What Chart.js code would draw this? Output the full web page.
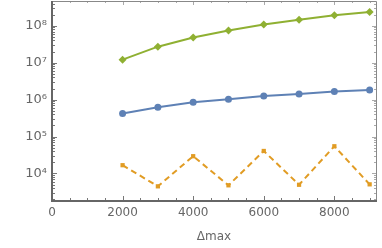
<!DOCTYPE html>
<html>
<head>
	<title>Delta max chart</title>
	<style>
		body { margin: 0; background: #fff; }
		.chart { width: 382px; height: 248px; }
	</style>
</head>
<body>
	<div class="chart">
	<canvas id="chart1"></canvas>
	</div>

	<script src="https://cdn.jsdelivr.net/npm/chart.js@4.4.0/dist/chart.umd.min.js"></script>
	<script>
		// values
		var deltaMax = [2000, 3000, 4000, 5000, 6000, 7000, 8000, 9000];
		var greenVals = [1.21e7, 2.72e7, 4.84e7, 7.47e7, 1.08e8, 1.45e8, 1.94e8, 2.38e8];
		var blueVals = [4.2e5, 6.2e5, 8.45e5, 1.02e6, 1.25e6, 1.42e6, 1.67e6, 1.82e6];
		var orangeVals = [1.67e4, 4.47e3, 2.93e4, 4.76e3, 4.06e4, 4.93e3, 5.45e4, 5.06e3];
		var xTicks = [0, 2000, 4000, 6000, 8000];
		var yTicks = [1e4, 1e5, 1e6, 1e7, 1e8];
		var yTickLabels = ["10\u2074", "10\u2075", "10\u2076", "10\u2077", "10\u2078"];

		function pts(vals) {
			return deltaMax.map(function (x, i) { return {x: x, y: vals[i]}; });
		}

		// frame with inward ticks, like the original
		var framePlugin = {
			id: 'frame',
			afterDraw: function (chart) {
				var ctx = chart.ctx, a = chart.chartArea;
				var xs = chart.scales.x, ys = chart.scales.y;
				ctx.save();
				ctx.lineWidth = 1;
				// x ticks (major every 2000, minor every 500)
				for (var v = 0; v <= xs.max; v += 500) {
					var px = Math.round(xs.getPixelForValue(v)) + 0.5;
					var len = (v % 2000 === 0) ? 5 : 3;
					ctx.strokeStyle = '#777';
					ctx.beginPath();
					ctx.moveTo(px, a.bottom); ctx.lineTo(px, a.bottom - len);
					ctx.stroke();
					ctx.strokeStyle = '#aaa';
					ctx.beginPath();
					ctx.moveTo(px, a.top); ctx.lineTo(px, a.top + len - 1);
					ctx.stroke();
				}
				// y ticks
				for (var e = 3; e <= 8; e++) {
					for (var k = 1; k <= 9; k++) {
						var val = k * Math.pow(10, e);
						if (val < ys.min || val > ys.max) continue;
						var py = Math.round(ys.getPixelForValue(val)) + 0.5;
						var l = (k === 1) ? 5 : 3;
						ctx.strokeStyle = '#777';
						ctx.beginPath();
						ctx.moveTo(a.left, py); ctx.lineTo(a.left + l, py);
						ctx.stroke();
						ctx.strokeStyle = '#aaa';
						ctx.beginPath();
						ctx.moveTo(a.right, py); ctx.lineTo(a.right - l + 1, py);
						ctx.stroke();
					}
				}
				// thin top and right edges
				ctx.strokeStyle = '#888';
				ctx.beginPath();
				ctx.moveTo(a.left, a.top + 0.5); ctx.lineTo(a.right + 0.5, a.top + 0.5);
				ctx.lineTo(a.right + 0.5, a.bottom);
				ctx.stroke();
				// heavier left and bottom axes
				ctx.lineWidth = 2;
				ctx.strokeStyle = '#666';
				ctx.beginPath();
				ctx.moveTo(a.left, a.top); ctx.lineTo(a.left, a.bottom);
				ctx.lineTo(a.right + 1, a.bottom);
				ctx.stroke();
				ctx.restore();
			}
		};

		var ctx = document.getElementById('chart1').getContext('2d');
		var chart = new Chart(ctx, {
			type: 'line',
			data: {
				datasets: [{
					label: 'green',
					data: pts(greenVals),
					borderColor: '#8fb032',
					backgroundColor: '#8fb032',
					borderWidth: 2,
					pointStyle: 'rectRot',
					pointRadius: 4,
					pointBorderWidth: 0
				}, {
					label: 'blue',
					data: pts(blueVals),
					borderColor: '#5e81b5',
					backgroundColor: '#5e81b5',
					borderWidth: 2,
					pointStyle: 'circle',
					pointRadius: 3.5,
					pointBorderWidth: 0
				}, {
					label: 'orange',
					data: pts(orangeVals),
					borderColor: '#e19c24',
					backgroundColor: '#e19c24',
					borderWidth: 2,
					borderDash: [6, 4],
					pointStyle: 'rect',
					pointRadius: 3,
					pointBorderWidth: 0
				}]
			},
			options: {
				responsive: true,
				maintainAspectRatio: false,
				animation: false,
				layout: { autoPadding: false, padding: { top: 1, right: 6, left: 0, bottom: 0 } },
				plugins: { legend: { display: false }, tooltip: { enabled: false } },
				scales: {
					x: {
						type: 'linear',
						min: 0,
						max: 9180,
						afterBuildTicks: function (s) { s.ticks = xTicks.map(function (v) { return {value: v}; }); },
						afterFit: function (s) { s.height = 47; s.paddingLeft = 0; s.paddingRight = 0; },
						grid: { display: false, drawTicks: false },
						border: { display: false },
						ticks: {
							padding: 5,
							color: '#666',
							font: { family: 'DejaVu Sans', size: 12 },
							maxRotation: 0,
							callback: function (v) { return String(v); }
						},
						title: {
							display: true,
							text: '\u0394max',
							color: '#666',
							font: { family: 'DejaVu Sans', size: 12 },
							padding: { top: 0, bottom: 4 }
						}
					},
					y: {
						type: 'logarithmic',
						min: 1790,
						max: 4.7e8,
						afterBuildTicks: function (s) { s.ticks = yTicks.map(function (v) { return {value: v}; }); },
						afterFit: function (s) { s.width = 52; s.paddingTop = 0; s.paddingBottom = 0; },
						grid: { display: false, drawTicks: false },
						border: { display: false },
						ticks: {
							padding: 5,
							color: '#666',
							font: { family: 'DejaVu Sans', size: 13 },
							callback: function (v) {
								var i = yTicks.indexOf(v);
								return i >= 0 ? yTickLabels[i] : '';
							}
						}
					}
				}
			},
			plugins: [framePlugin]
		});
	</script>
</body>
</html>
